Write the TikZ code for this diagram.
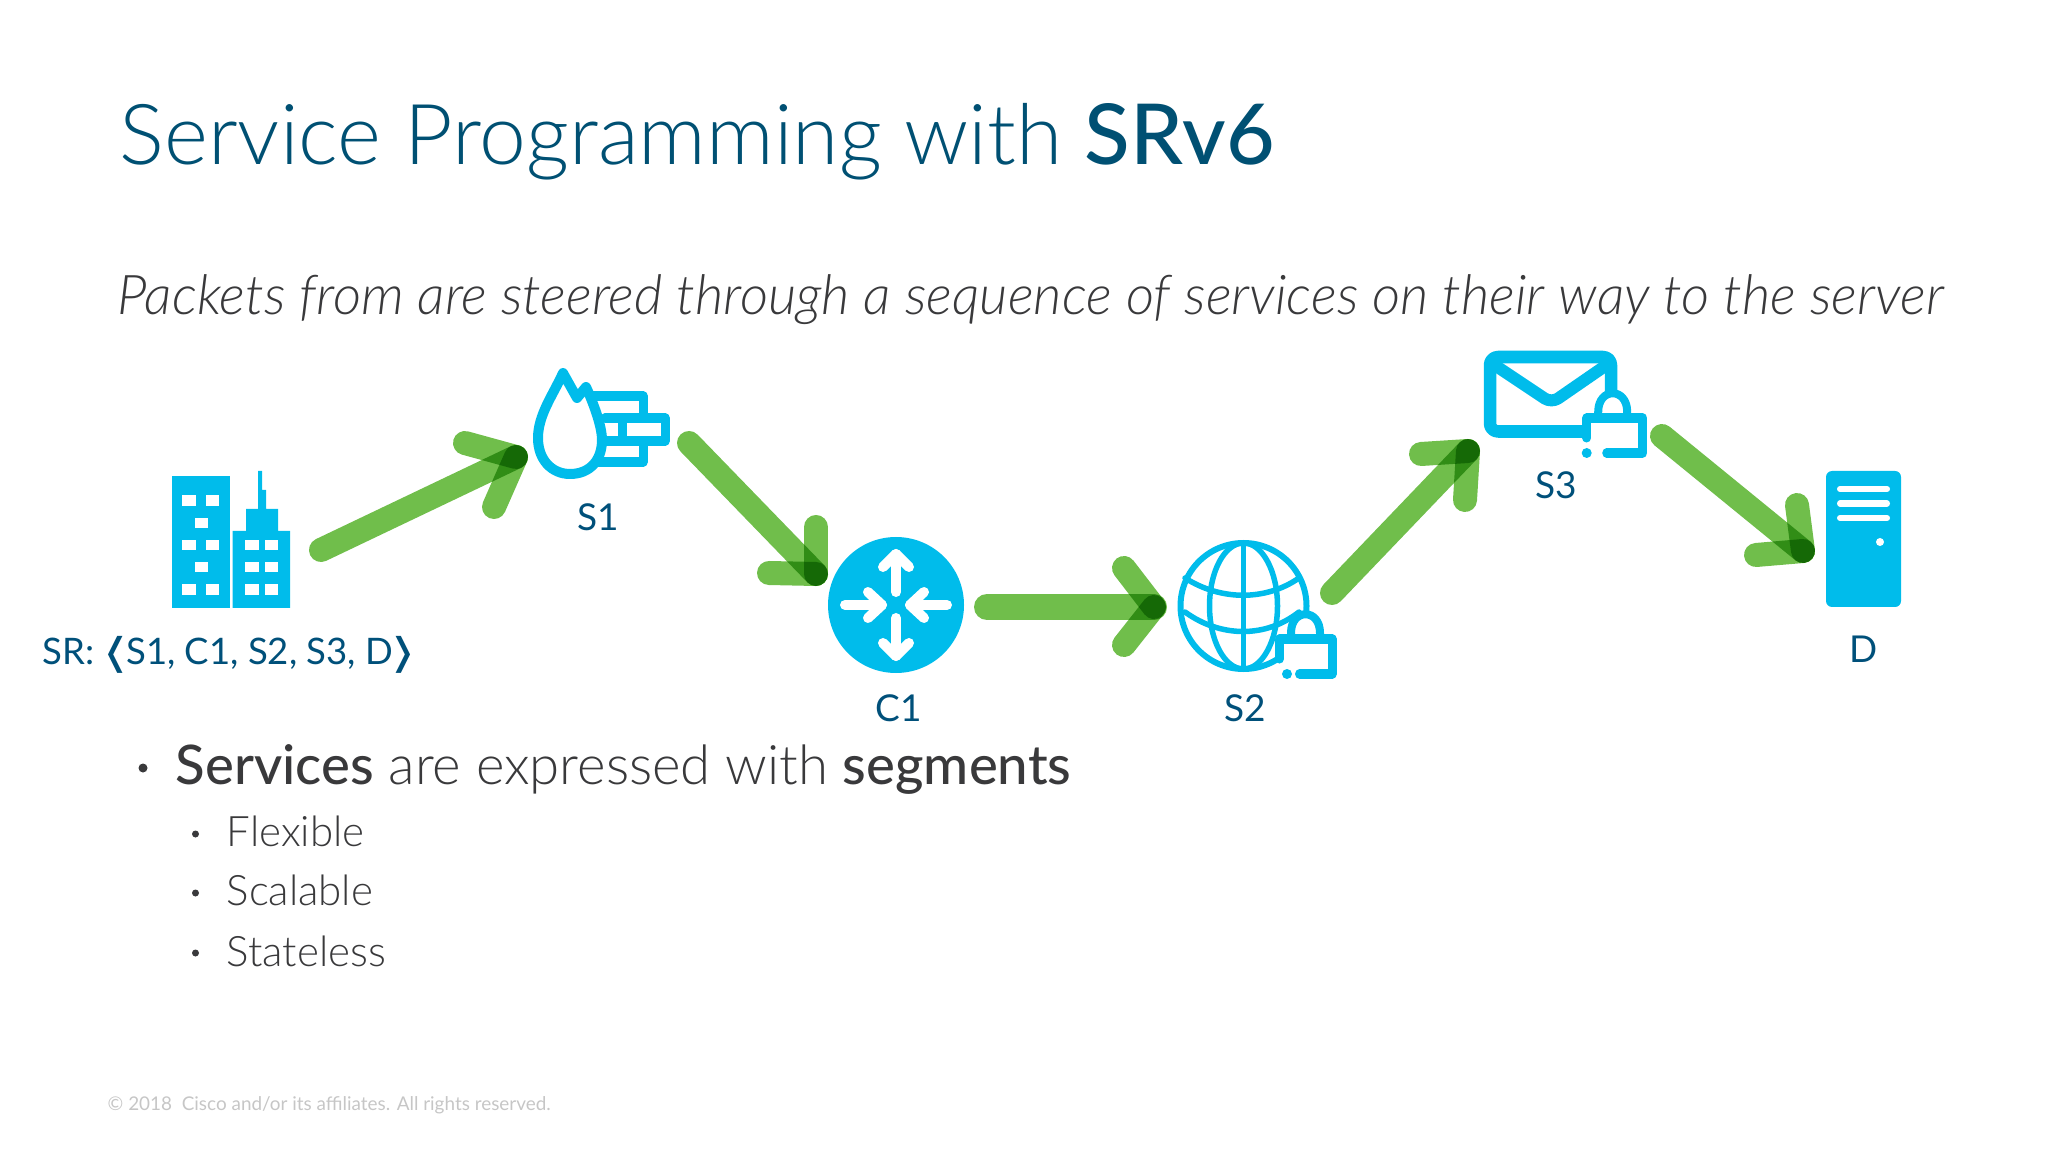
\documentclass[tikz,border=0pt]{standalone}
\usepackage{fontspec}
\usetikzlibrary{positioning,calc}
\setmainfont{Lato}
\newfontfamily\lightfont{Lato Light}
\newfontfamily\mediumfont{Lato Medium}
\newfontfamily\bracketfont{DejaVu Sans}
\definecolor{iconblue}{HTML}{00BCEB}
\definecolor{flowgreen}{HTML}{70BE4B}
\definecolor{titleblue}{HTML}{005073}
\definecolor{labelblue}{HTML}{00507A}
\definecolor{bodygray}{HTML}{39393B}
\definecolor{footgray}{HTML}{C6C6C6}
\newcommand{\fpx}[1]{\fontsize{\dimexpr#1\dimexpr0.2845pt\relax\relax}{\dimexpr#1\dimexpr0.2845pt\relax\relax}\selectfont}
\tikzset{
  icon/.style={draw=iconblue, line width=0.9mm, line cap=round, line join=round},
  iconspot/.style={inner sep=0pt, minimum width=#1},
  hole/.style={fill=white},
  thinwhite/.style={draw=white, line width=1mm, line cap=round, line join=round},
  flowline/.style={draw=flowgreen, line width=2.4mm, line cap=round, blend mode=multiply},
  tag/.style={anchor=base, inner sep=0pt, text=labelblue, font=\fpx{37}},
  bigline/.style={anchor=base west, inner sep=0pt, text=bodygray, font=\lightfont\fpx{54.5}},
  smallline/.style={anchor=base west, inner sep=0pt, text=bodygray, font=\lightfont\fpx{42}},
}
% shaft first, then the two barbs
\newcommand{\flowarrow}[5][2.4mm]{
  \draw[flowline, line width=#1] (#2) -- (#3);
  \draw[flowline] (#4) -- (#3);
  \draw[flowline] (#5) -- (#3);
}
% x, y, body width, dot offset
\newcommand{\lockicon}[4]{
  \begin{scope}[shift={(#1,#2)}]
    \fill[white] (0,0) rectangle (#3,35);
    \fill[white] (11.5,0) -- (11.5,-6) .. controls (11.5,-31) and (40.5,-31) .. (40.5,-6) -- (40.5,0) -- cycle;
    \draw[icon, line width=0.8mm] (11.5,0) -- (11.5,-6) .. controls (11.5,-31) and (40.5,-31) .. (40.5,-6) -- (40.5,0);
    \draw[icon] (0,20) -- (0,0) -- (#3,0) -- (#3,35) -- (20,35);
    \fill[iconblue] (#4,35) circle [radius=5];
  \end{scope}
}
\begin{document}
\begin{tikzpicture}[x=0.01cm,y=-0.01cm]
  \useasboundingbox (0,0) rectangle (2048,1152);
  \node[anchor=base west, inner sep=0pt, text=titleblue, font=\lightfont\fpx{84}] (title) at (119,165) {Service Programming with {\mediumfont SRv6}};
  \node[anchor=base west, inner sep=0pt, text=bodygray, font=\lightfont\itshape\fpx{54.8}] (subtitle) at (117,315) {Packets from are steered through a sequence of services on their way to the server};

  % sites
  \node[iconspot=120pt] (hq) at (230,540) {};
  \node[iconspot=100pt] (s1) at (600,425) {};
  \node[iconspot=130pt] (c1) at (896,605) {};
  \node[iconspot=130pt] (s2) at (1243.5,606) {};
  \node[iconspot=130pt] (s3) at (1565,400) {};
  \node[iconspot=75pt] (d) at (1864,539) {};

  % hq
  \fill[iconblue] (172,476) rectangle (230,608);
  \fill[iconblue] (232.5,608) -- (232.5,531) -- (246,531) -- (246,509) -- (258,509) -- (258,471) -- (262,471) -- (262,490) -- (266,490) -- (266,509) -- (278,509) -- (278,531) -- (290,531) -- (290,608) -- cycle;
  \foreach \y in {495.3,540,584.3}{
    \fill[hole] (182,\y) rectangle ++(13.5,10.3);
    \fill[hole] (205.5,\y) rectangle ++(13,10.3);
  }
  \foreach \y in {517.7,562}
    \fill[hole] (194.5,\y) rectangle ++(13.5,10.3);
  \foreach \y in {540,562,584.3}{
    \fill[hole] (245,\y) rectangle ++(13.5,10.3);
    \fill[hole] (265,\y) rectangle ++(13,10.3);
  }

  % s1
  \draw[icon] (605,418) -- (665,418) -- (665,441) -- (605,441);
  \draw[icon] (592,396) -- (643,396) -- (643,418);
  \draw[icon] (643,441) -- (643,462) -- (595,462);
  \draw[icon] (622,418) -- (622,441);
  \draw[icon, line width=1mm, fill=white] (563,373) .. controls (553,395) and (538,415) .. (538,438)
    .. controls (538,460) and (552,474) .. (570,474)
    .. controls (590,474) and (602,460) .. (602,440)
    .. controls (602,425) and (592,400) .. (586,387)
    -- (577,398) -- cycle;

  % c1
  \fill[iconblue] (c1) circle [radius=68];
  \draw[thinwhite] (896,592) -- (896,554);
  \draw[thinwhite] (883,567) -- (896,554) -- (909,567);
  \draw[thinwhite] (896,618) -- (896,656);
  \draw[thinwhite] (883,643) -- (896,656) -- (909,643);
  \draw[thinwhite] (845,605) -- (882,605);
  \draw[thinwhite] (868,592) -- (882,605) -- (868,618);
  \draw[thinwhite] (947,605) -- (910,605);
  \draw[thinwhite] (924,592) -- (910,605) -- (924,618);

  % s2
  \draw[icon, line width=0.6mm] (s2) circle [radius=63];
  \draw[icon, line width=0.55mm] (s2) ellipse [x radius=34, y radius=63];
  \draw[icon, line width=0.55mm] (1243.5,543) -- (1243.5,669);
  \draw[icon, line width=0.55mm] (1185,578) .. controls (1221,601) and (1266,601) .. (1299,578);
  \draw[icon, line width=0.55mm] (1185,612) .. controls (1221,638) and (1266,638) .. (1299,612);
  \lockicon{1279.5}{639}{52.5}{7.5}

  % s3
  \draw[icon, line width=1.25mm, rounded corners=0.8mm] (1490,357) rectangle (1611,431.5);
  \draw[icon, line width=1.2mm, rounded corners=0.8mm, line cap=butt] (1493,364) -- (1551.5,403) -- (1608,364);
  \lockicon{1586.7}{418}{56}{0}

  % d
  \fill[iconblue, rounded corners=0.6mm] (1826,471) rectangle (1901,607);
  \foreach \y in {489,503.5,518}
    \draw[white, line width=0.6mm, line cap=round] (1840,\y) -- (1887,\y);
  \fill[white] (1880,542) circle [radius=4];

  \node[tag, anchor=base west, font=\fpx{36.5}] (srlabel) at (42,664.5) {SR:\hspace{1.6pt}{\bracketfont\fpx{37}❬}\hspace{-1.4pt}S1, C1, S2, S3, D\hspace{-1.6pt}{\bracketfont\fpx{37}❭}};
  \node[tag] (s1label) at (598,530.5) {S1};
  \node[tag] (c1label) at (898.5,721.5) {C1};
  \node[tag] (s2label) at (1245.5,721.5) {S2};
  \node[tag] (s3label) at (1556.5,498.5) {S3};
  \node[tag] (dlabel) at (1864,662.5) {D};

  % flows
  \coordinate (hq-out) at (321,550);  \coordinate (s1-in) at (516,457);
  \coordinate (s1-out) at (689,443);  \coordinate (c1-in) at (816,574);
  \coordinate (c1-out) at (987,607);  \coordinate (s2-in) at (1154,607);
  \coordinate (s2-out) at (1332,593); \coordinate (s3-in) at (1468,451);
  \coordinate (s3-out) at (1662,436); \coordinate (d-in) at (1803,551);
  \flowarrow{hq-out}{s1-in}{465,443}{494,507}
  \flowarrow{s1-out}{c1-in}{816,527}{769,573}
  \flowarrow[2.6mm]{c1-out}{s2-in}{1124,568}{1124,645}
  \flowarrow{s2-out}{s3-in}{1465,500}{1421,454}
  \flowarrow{s3-out}{d-in}{1797,505}{1756,555}

  % bullets
  \fill[bodygray] (143,768) circle [radius=4.5];
  \node[bigline] (services) at (175,784) {{\mediumfont Services} are expressed with {\mediumfont segments}};
  \fill[bodygray] (195.5,834) circle [radius=3.5];
  \node[smallline] (flexible) at (226,846) {Flexible};
  \fill[bodygray] (195.5,893) circle [radius=3.5];
  \node[smallline] (scalable) at (226,905) {Scalable};
  \fill[bodygray] (195.5,953) circle [radius=3.5];
  \node[smallline] (stateless) at (226,966) {Stateless};

  \node[anchor=base west, inner sep=0pt, text=footgray, font=\fpx{18.9}] (footer) at (107,1110) {© 2018\ \ Cisco and/or its affiliates. All rights reserved.};
\end{tikzpicture}
\end{document}
